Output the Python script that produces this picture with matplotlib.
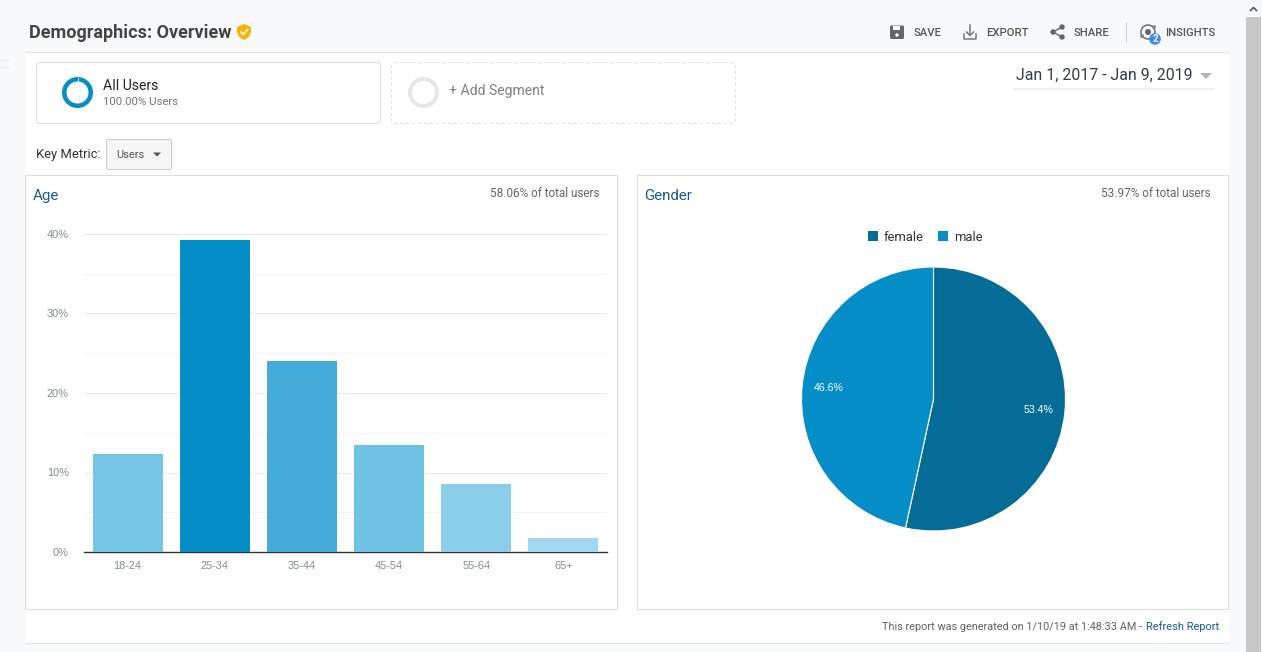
import matplotlib
matplotlib.use("Agg")
import matplotlib.pyplot as plt
from matplotlib.patches import Rectangle, FancyBboxPatch, Circle, Wedge, Polygon

plt.rcParams['font.family'] = ['Roboto', 'DejaVu Sans']

age_groups = ['18-24', '25-34', '35-44', '45-54', '55-64', '65+']
age_values = [12.3, 39.2, 24.0, 13.5, 8.55, 1.8]
age_colors = ['#76c4e5', '#058dc7', '#45abd8', '#70c3e4', '#8bceea', '#a1d8ef']
age_ticks = [0, 10, 20, 30, 40]
age_minor = [5, 15, 25, 35]

genders = ['female', 'male']
gender_values = [53.4, 46.6]
gender_colors = ['#056c97', '#058dc7']

W, H = 1262, 652
BG = '#f8f9fa'
BORDER = '#dddddd'
THIN = 0.72  # one pixel at dpi 100

fig = plt.figure(figsize=(W / 100, H / 100), dpi=100, facecolor=BG)

# page chrome is drawn in pixel coords on a full figure axes
ui = fig.add_axes([0, 0, 1, 1], zorder=0)
ui.set_xlim(0, W)
ui.set_ylim(H, 0)
ui.axis('off')


def px_axes(x0, y0, x1, y1, **kw):
    return fig.add_axes([x0 / W, 1 - y1 / H, (x1 - x0) / W, (y1 - y0) / H], **kw)


def box(x0, y0, x1, y1, fc='white', ec=BORDER, lw=THIN, **kw):
    ui.add_patch(Rectangle((x0, y0), x1 - x0, y1 - y0, fc=fc, ec=ec, lw=lw, **kw))


def rbox(x0, y0, x1, y1, fc='white', ec=BORDER, lw=THIN, ls='-', r=3):
    ui.add_patch(FancyBboxPatch((x0 + r, y0 + r), x1 - x0 - 2 * r, y1 - y0 - 2 * r,
                                boxstyle=f"round,pad={r},rounding_size={r}",
                                fc=fc, ec=ec, lw=lw, ls=ls))


def txt(x, y, s, px, color='#333333', ha='left', **kw):
    ui.text(x, y + 0.8, s, fontsize=px * 0.72, color=color, ha=ha, va='center', **kw)


def hline(x0, x1, y, color=BORDER, lw=THIN):
    ui.plot([x0, x1], [y, y], color=color, lw=lw, solid_capstyle='butt')


def vline(x, y0, y1, color=BORDER, lw=THIN):
    ui.plot([x, x], [y0, y1], color=color, lw=lw, solid_capstyle='butt')


# main panel, scrollbar, leftovers on the left
box(26, 53, 1229, 643, fc='white', ec='none')
hline(26, 1229, 52, '#e3e3e3')
hline(26, 1229, 643, '#e3e3e3')
box(1246, 17, 1261, 652, fc='#c8c8c8', ec='none')
ui.plot([1253.5 - 3, 1253.5, 1253.5 + 3], [10.5, 7.5, 10.5], color='#555555', lw=1.2)
hline(0, 9, 59.5, '#e6e6e6')
hline(0, 9, 66.5, '#e6e6e6')

# header
txt(29, 32, 'Demographics: Overview', 18, color='#444444', fontweight='bold')
ui.add_patch(Polygon([(237, 27), (244, 24), (251, 27), (251, 32), (249, 37), (244, 40),
                      (239, 37), (237, 32)], fc='#f4b400', ec='none'))
ui.plot([241, 243.3, 247.5], [32, 34.5, 29.5], color='white', lw=1.2)

txt(914, 32, 'SAVE', 11.3, color='#555555', fontweight='medium')
txt(986.5, 32, 'EXPORT', 11.3, color='#555555', fontweight='medium')
txt(1074, 32, 'SHARE', 11.3, color='#555555', fontweight='medium')
txt(1165, 32, 'INSIGHTS', 11.3, color='#555555', fontweight='medium')

# save icon
rbox(890, 25.5, 904, 39, fc='#666666', ec='none', r=1.5)
box(893, 26, 900, 30, fc='white', ec='none')
ui.add_patch(Circle((897, 35), 1.7, fc='white', ec='none'))
# export icon
ui.plot([964, 964, 976, 976], [34, 38.5, 38.5, 34], color='#777777', lw=1.1)
ui.plot([970, 970], [25, 35], color='#777777', lw=1.1)
ui.plot([966.5, 970, 973.5], [32, 35.5, 32], color='#777777', lw=1.1)
# share icon
ui.plot([1062, 1053, 1062], [27, 32, 37], color='#666666', lw=1)
for sx, sy in [(1062, 27), (1053, 32), (1062, 37)]:
    ui.add_patch(Circle((sx, sy), 2.7, fc='#666666', ec='none'))
vline(1125.5, 22, 42, '#cccccc')
# insights icon
ui.add_patch(Circle((1148, 32), 7, fc='none', ec='#777777', lw=1.2))
ui.add_patch(Circle((1148, 32), 3, fc='#666666', ec='none'))
ui.add_patch(Circle((1142, 36), 2, fc='#888888', ec='none'))
ui.add_patch(Circle((1154, 27), 2, fc='#888888', ec='none'))
ui.add_patch(Circle((1155, 39), 5.8, fc='#4285f4', ec='none', zorder=4))
ui.text(1155, 39.3, '2', fontsize=7, color='white', ha='center', va='center',
        fontweight='bold', zorder=5)

# segment boxes
rbox(36.5, 62.5, 380.5, 123.5, ec='#dddddd')
ui.add_patch(Wedge((77.5, 92.5), 15.5, 0, 360, width=4.5, fc='#058dc7', ec='none'))
vline(77.5, 77, 81.5, 'white', lw=0.5)
txt(103, 85, 'All Users', 14, color='#222222')
txt(103, 101.5, '100.00% Users', 11.4, color='#757575')
rbox(391.5, 62.5, 735.5, 123.5, ec='#dfdfdf', ls=(0, (3, 3)))
ui.add_patch(Wedge((423.5, 92.5), 15.5, 0, 360, width=4, fc='#e6e6e6', ec='none'))
vline(423.5, 77, 81, 'white', lw=0.5)
txt(449, 90, '+ Add Segment', 14, color='#808080')

# date range
txt(1016, 75, 'Jan 1, 2017 - Jan 9, 2019', 15.9, color='#333e48')
ui.add_patch(Polygon([(1200, 73), (1212, 73), (1206, 79)], fc='#b5b5b5', ec='none'))
hline(1013, 1214, 89, '#eeeeee', lw=1.2)

# key metric
txt(36, 154, 'Key Metric:', 13, color='#333333')
rbox(106.5, 139.5, 171.5, 169.5, fc='#f6f6f6', ec='#cccccc', r=2)
txt(116, 154, 'Users', 11, color='#555555')
ui.add_patch(Polygon([(153, 152.5), (161, 152.5), (157, 156.5)], fc='#555555', ec='none'))

# chart panels
box(25, 175, 617, 609)
box(637, 175, 1228, 609)
txt(33, 195, 'Age', 15, color='#1a5a96')
txt(600, 192.5, '58.06% of total users', 11.8, color='#666666', ha='right')
txt(644.5, 195, 'Gender', 15, color='#1a5a96')
txt(1211, 192.5, '53.97% of total users', 11.8, color='#666666', ha='right')

# footer
txt(1142.5, 626, 'This report was generated on 1/10/19 at 1:48:33 AM -', 10.9,
    color='#5f6368', ha='right')
txt(1146, 626, 'Refresh Report', 11, color='#1a5a96')

# age bars
ax = px_axes(84, 234, 607, 552, zorder=2)
ax.patch.set_alpha(0)
ax.bar(age_groups, age_values, width=0.803, color=age_colors, zorder=3)
ax.set_xlim(-0.5, 5.5)
ax.set_ylim(0, 40)
ax.set_yticks(age_ticks, [f'{t}%' for t in age_ticks])
ax.set_yticks(age_minor, minor=True)
ax.grid(axis='y', which='major', color='#e9e9e9', lw=THIN, zorder=0)
ax.grid(axis='y', which='minor', color='#f3f3f3', lw=THIN, zorder=0)
for side in ['top', 'left', 'right']:
    ax.spines[side].set_visible(False)
ax.spines['bottom'].set_color('#333333')
ax.spines['bottom'].set_linewidth(1.0)
ax.tick_params(axis='both', which='both', length=0)
ax.tick_params(axis='x', labelsize=7.9, labelcolor='#808a94', pad=6.7)
ax.tick_params(axis='y', labelsize=7.9, labelcolor='#808a94', pad=11)
for lab in ax.get_xticklabels() + ax.get_yticklabels():
    lab.set_fontfamily(['Liberation Sans', 'DejaVu Sans'])

# gender pie
pie_ax = px_axes(801.5, 267, 1065.5, 531, zorder=2)
wedges, _, autotexts = pie_ax.pie(
    gender_values, colors=gender_colors, startangle=90, counterclock=False, radius=1,
    autopct='%.1f%%', pctdistance=0.80,
    wedgeprops={'edgecolor': 'white', 'linewidth': 0.8},
    textprops={'fontsize': 7.6, 'color': 'white', 'family': ['Liberation Sans', 'DejaVu Sans']})
pie_ax.set_xlim(-1, 1)
pie_ax.set_ylim(-1, 1)

# legend sits above the pie
leg_x = [868, 938]
for name, col, lx in zip(genders, gender_colors, leg_x):
    box(lx, 231, lx + 10, 241, fc=col, ec='none')
    txt(lx + 16, 236.8, name, 13, color='#333333')

fig.savefig('out.png', dpi=100, facecolor=BG)
